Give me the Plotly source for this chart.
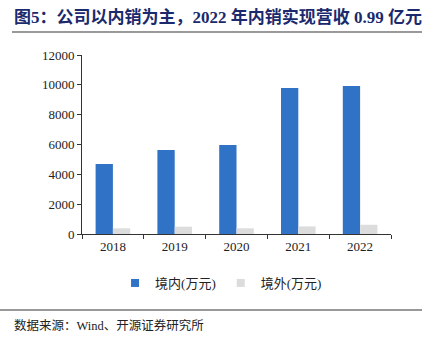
import plotly.graph_objects as go

years = ["2018", "2019", "2020", "2021", "2022"]
domestic = [4690, 5630, 5960, 9780, 9920]
overseas = [380, 490, 380, 510, 620]
yticks = [0, 2000, 4000, 6000, 8000, 10000, 12000]
names = ["境内(万元)", "境外(万元)"]
colors = ["#3072C6", "#DCDCDC"]

serif = "Times New Roman, Liberation Serif, Noto Sans CJK SC, serif"

fig = go.Figure()
for vals, nm, c in zip([domestic, overseas], names, colors):
    fig.add_trace(go.Bar(x=years, y=vals, name=nm, marker_color=c,
                         marker_line_width=0, showlegend=False))
for nm, c in zip(names, colors):
    fig.add_trace(go.Scatter(x=[None], y=[None], mode="markers", name=nm,
                             marker=dict(symbol="square", size=8, color=c)))

fig.update_layout(
    width=433, height=339,
    margin=dict(l=82, r=42, t=55, b=105),
    plot_bgcolor="white", paper_bgcolor="white",
    barmode="group", bargap=0.44, bargroupgap=0,
    font=dict(family=serif, size=13, color="#222"),
    legend=dict(orientation="h", x=0.45, xanchor="center", y=-0.19, yanchor="top",
                font=dict(size=13, family=serif), traceorder="normal"),
    showlegend=True,
)
fig.update_xaxes(showline=True, linecolor="#333", linewidth=1, ticks="outside",
                 tickson="boundaries", ticklen=4, tickcolor="#333",
                 tickfont=dict(size=13, family=serif, color="#222"))
fig.update_yaxes(range=[0, 12000], tickvals=yticks, ticktext=[str(v) for v in yticks],
                 showgrid=False, showline=True,
                 linecolor="#333", linewidth=1, ticks="outside", ticklen=4,
                 tickcolor="#333", zeroline=False,
                 tickfont=dict(size=13, family=serif, color="#222"))

fig.add_annotation(text="<b>图5：公司以内销为主，2022 年内销实现营收 0.99 亿元</b>",
                   xref="paper", yref="paper", x=-70/309, xanchor="left",
                   y=1 + (55 - 17) / 179, yanchor="middle", showarrow=False,
                   font=dict(size=17, color="#1A2A6C", family=serif))
fig.add_shape(type="line", xref="paper", yref="paper",
              x0=-70/309, x1=340/309, y0=1 + (55 - 32) / 179, y1=1 + (55 - 32) / 179,
              line=dict(color="#999", width=2))
fig.add_shape(type="line", xref="paper", yref="paper",
              x0=-82/309, x1=340/309, y0=-(310 - 234) / 179, y1=-(310 - 234) / 179,
              line=dict(color="#333", width=1))
fig.add_annotation(text="数据来源：Wind、开源证券研究所",
                   xref="paper", yref="paper", x=-70/309, xanchor="left",
                   y=-(325 - 234) / 179, yanchor="middle", showarrow=False,
                   font=dict(size=12.5, color="#222", family=serif))

fig.write_html("out.html")
